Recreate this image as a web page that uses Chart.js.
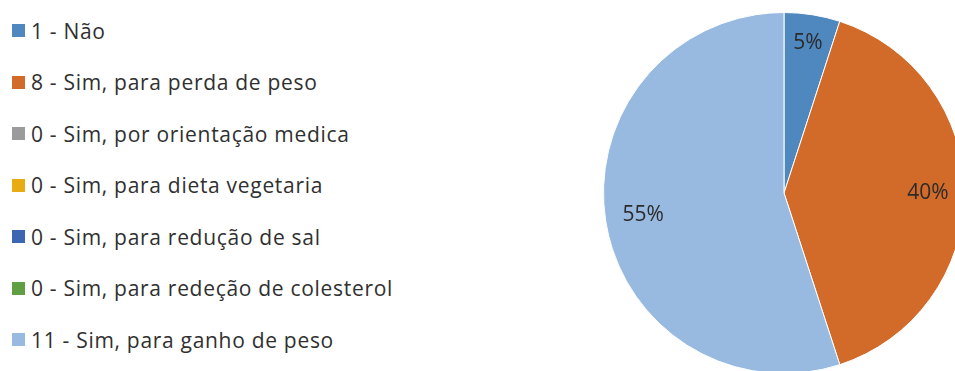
<!DOCTYPE html>
<html>
<head>
<meta charset="utf-8">
<script src="https://cdn.jsdelivr.net/npm/chart.js@4"></script>
<style>
  html, body { margin:0; padding:0; width:955px; height:371px; overflow:hidden; background:#ffffff; }
  #legend { position:absolute; left:12px; top:4.75px; margin:0; padding:0; list-style:none;
            font-family: "Open Sans", sans-serif; font-size:21px; letter-spacing:0.7px; color:#303030; }
  #legend li { height:51.5px; display:flex; align-items:center; white-space:nowrap; }
  #legend .box { width:13px; height:13px; margin-right:6px; flex:none; }
  #wrap { position:absolute; left:603px; top:12px; width:362px; height:362px; }
</style>
</head>
<body>
<ul id="legend"></ul>
<div id="wrap"><canvas id="c"></canvas></div>
<script>
const categories = [
  "Não",
  "Sim, para perda de peso",
  "Sim, por orientação medica",
  "Sim, para dieta vegetaria",
  "Sim, para redução de sal",
  "Sim, para redeção de colesterol",
  "Sim, para ganho de peso"
];
const counts = [1, 8, 0, 0, 0, 0, 11];
const sliceColors = ["#4f87bf", "#d26b29", "#9b9b9b", "#e8ac12", "#3c65b2", "#5f9e42", "#98b9e0"];

const labelFont = '21px "Open Sans", sans-serif';

const pctLabels = {
  id: 'pctLabels',
  afterDatasetsDraw(chart) {
    const ctx = chart.ctx;
    const data = chart.data.datasets[0].data;
    const total = data.reduce((a, b) => a + b, 0);
    const meta = chart.getDatasetMeta(0);
    ctx.save();
    ctx.font = labelFont;
    ctx.fillStyle = '#2b2b2b';
    ctx.textAlign = 'center';
    ctx.textBaseline = 'middle';
    meta.data.forEach((arc, i) => {
      if (!data[i]) return;
      const p = arc.getProps(['x', 'y', 'startAngle', 'endAngle', 'outerRadius'], true);
      const mid = (p.startAngle + p.endAngle) / 2;
      const txt = Math.round(data[i] / total * 100) + '%';
      const w = ctx.measureText(txt).width;
      const h = 20;
      const extent = Math.abs(Math.cos(mid)) * w / 2 + Math.abs(Math.sin(mid)) * h / 2;
      const r = p.outerRadius - 16 - extent;
      ctx.fillText(txt, p.x + Math.cos(mid) * r, p.y + Math.sin(mid) * r);
    });
    ctx.restore();
  }
};

const chart = new Chart(document.getElementById('c'), {
  type: 'pie',
  data: {
    labels: categories.map((c, i) => counts[i] + ' - ' + c),
    datasets: [{
      data: counts,
      backgroundColor: sliceColors,
      borderColor: '#ffffff',
      borderWidth: 1
    }]
  },
  options: {
    responsive: true,
    maintainAspectRatio: false,
    animation: false,
    layout: { padding: 0 },
    plugins: {
      legend: { display: false },
      tooltip: { enabled: false }
    }
  },
  plugins: [pctLabels]
});

// HTML legend built from the chart's own legend items
const ul = document.getElementById('legend');
Chart.overrides.pie.plugins.legend.labels.generateLabels(chart).forEach(item => {
  const li = document.createElement('li');
  const box = document.createElement('span');
  box.className = 'box';
  box.style.background = item.fillStyle;
  const t = document.createElement('span');
  t.textContent = item.text;
  li.appendChild(box);
  li.appendChild(t);
  ul.appendChild(li);
});
</script>
</body>
</html>
